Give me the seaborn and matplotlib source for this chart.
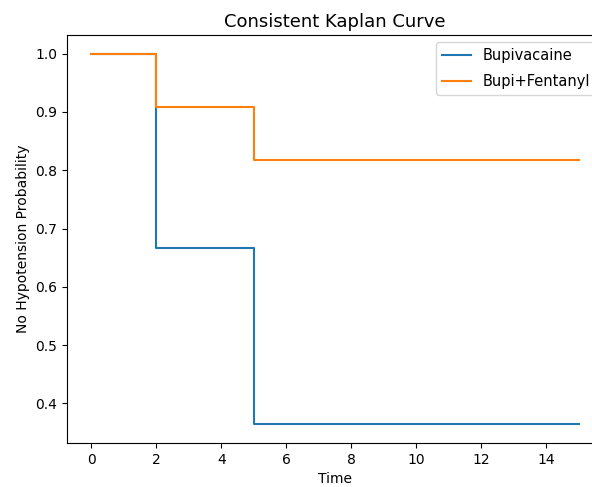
import pandas as pd
import matplotlib
matplotlib.use('Agg')
import matplotlib.pyplot as plt
import seaborn as sns

# survival estimates (step after each time)
times = [0, 2, 5, 15]
bupivacaine = [1.0, 0.667, 0.364, 0.364]
bupi_fentanyl = [1.0, 0.909, 0.818, 0.818]
groups = ['Bupivacaine', 'Bupi+Fentanyl']

df = pd.concat([
    pd.DataFrame({'Time': times, 'prob': bupivacaine, 'group': groups[0]}),
    pd.DataFrame({'Time': times, 'prob': bupi_fentanyl, 'group': groups[1]}),
])

plt.rcdefaults()
plt.rcParams['font.family'] = ['DejaVu Sans']

# axes run a little past the right edge, as in the original crop
fig = plt.figure(figsize=(5.92, 4.87), dpi=100)
ax = fig.add_axes([0.1132, 0.0903, 0.9054, 0.8377])
sns.lineplot(data=df, x='Time', y='prob', hue='group', hue_order=groups,
             palette=['#1f77b4', '#ff7f0e'], drawstyle='steps-post',
             estimator=None, linewidth=1.5, ax=ax)

ax.set_title('Consistent Kaplan Curve', fontsize=13)
ax.set_xlabel('Time')
ax.set_ylabel('No Hypotension Probability')
ax.set_xticks([0, 2, 4, 6, 8, 10, 12, 14])
ax.set_yticks([0.4, 0.5, 0.6, 0.7, 0.8, 0.9, 1.0])
ax.legend(title=None, loc='upper right', fontsize=10.5, labelspacing=0.75)

fig.savefig('out.png', dpi=100)
